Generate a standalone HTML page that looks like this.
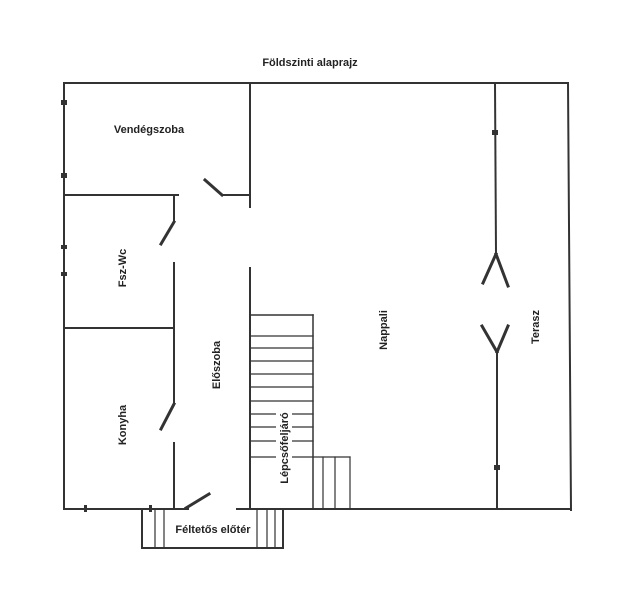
<!DOCTYPE html>
<html><head><meta charset="utf-8"><style>
body{margin:0;background:#fff}
svg text{font-family:"Liberation Sans",sans-serif;font-size:11px;font-weight:bold;fill:#222}
</style></head><body>
<svg width="640" height="596" viewBox="0 0 640 596" xmlns="http://www.w3.org/2000/svg">
<g stroke="#333" stroke-width="2" fill="none" stroke-linecap="square">
<line x1="64" y1="83" x2="568" y2="83"/>
<line x1="64" y1="83" x2="64" y2="509"/>
<line x1="568" y1="83" x2="571" y2="510"/>
<line x1="64" y1="509" x2="188" y2="509"/>
<line x1="237" y1="509" x2="571" y2="509"/>
<line x1="250" y1="83" x2="250" y2="207"/>
<line x1="222" y1="195" x2="250" y2="195"/>
<line x1="205" y1="180" x2="222" y2="195" stroke-width="3"/>
<line x1="250" y1="268" x2="250" y2="509"/>
<line x1="64" y1="195" x2="178" y2="195"/>
<line x1="174" y1="195" x2="174" y2="222"/>
<line x1="174" y1="222" x2="161" y2="244" stroke-width="3"/>
<line x1="174" y1="263" x2="174" y2="404"/>
<line x1="174" y1="404" x2="161" y2="429" stroke-width="3"/>
<line x1="174" y1="443" x2="174" y2="509"/>
<line x1="64" y1="328" x2="174" y2="328"/>
<line x1="186" y1="508" x2="209" y2="494" stroke-width="3"/>
<polyline points="142,509 142,548 283,548 283,509"/>
<line x1="155" y1="509" x2="155" y2="548" stroke-width="1.2"/>
<line x1="164" y1="509" x2="164" y2="548" stroke-width="1.2"/>
<line x1="257" y1="509" x2="257" y2="548" stroke-width="1.2"/>
<line x1="267" y1="509" x2="267" y2="548" stroke-width="1.2"/>
<line x1="275" y1="509" x2="275" y2="548" stroke-width="1.2"/>
<line x1="251" y1="315" x2="313" y2="315" stroke-width="1.5"/>
<line x1="313" y1="315" x2="313" y2="509" stroke-width="1.5"/>
<g stroke-width="1.2">
<line x1="251" y1="336" x2="313" y2="336"/>
<line x1="251" y1="348" x2="313" y2="348"/>
<line x1="251" y1="361" x2="313" y2="361"/>
<line x1="251" y1="374" x2="313" y2="374"/>
<line x1="251" y1="387" x2="313" y2="387"/>
<line x1="251" y1="401" x2="313" y2="401"/>
<line x1="251" y1="414" x2="313" y2="414"/>
<line x1="251" y1="427" x2="313" y2="427"/>
<line x1="251" y1="441" x2="313" y2="441"/>
<line x1="251" y1="457" x2="350" y2="457"/>
<line x1="323" y1="457" x2="323" y2="509"/>
<line x1="335" y1="457" x2="335" y2="509"/>
<line x1="350" y1="457" x2="350" y2="509"/>
</g>
<line x1="495" y1="83" x2="496" y2="254"/>
<line x1="496" y1="254" x2="483" y2="283" stroke-width="3"/>
<line x1="496" y1="254" x2="508" y2="286" stroke-width="3"/>
<line x1="497" y1="352" x2="497" y2="509"/>
<line x1="497" y1="352" x2="482" y2="326" stroke-width="3"/>
<line x1="497" y1="352" x2="508" y2="326" stroke-width="3"/>
</g>
<g fill="#333">
<rect x="61" y="100" width="6" height="5"/><rect x="61" y="173" width="6" height="5"/>
<rect x="61" y="245" width="6" height="4"/><rect x="61" y="272" width="6" height="4"/>
<rect x="492" y="130" width="6" height="5"/><rect x="494" y="465" width="6" height="5"/>
<rect x="84" y="505" width="3" height="7"/><rect x="149" y="505" width="3" height="7"/>
</g>
<rect x="276" y="406" width="16" height="84" fill="#fff"/>
<rect x="170" y="520" width="86" height="18" fill="#fff"/>
<text x="310" y="66" text-anchor="middle">Földszinti alaprajz</text>
<text x="149" y="133" text-anchor="middle">Vendégszoba</text>
<text x="213" y="533" text-anchor="middle">Féltetős előtér</text>
<text transform="translate(126,268) rotate(-90)" text-anchor="middle">Fsz-Wc</text>
<text transform="translate(126,425) rotate(-90)" text-anchor="middle">Konyha</text>
<text transform="translate(220,365) rotate(-90)" text-anchor="middle">Előszoba</text>
<text transform="translate(288,448) rotate(-90)" text-anchor="middle">Lépcsőfeljáró</text>
<text transform="translate(387,330) rotate(-90)" text-anchor="middle">Nappali</text>
<text transform="translate(539,327) rotate(-90)" text-anchor="middle">Terasz</text>
</svg>
</body></html>
